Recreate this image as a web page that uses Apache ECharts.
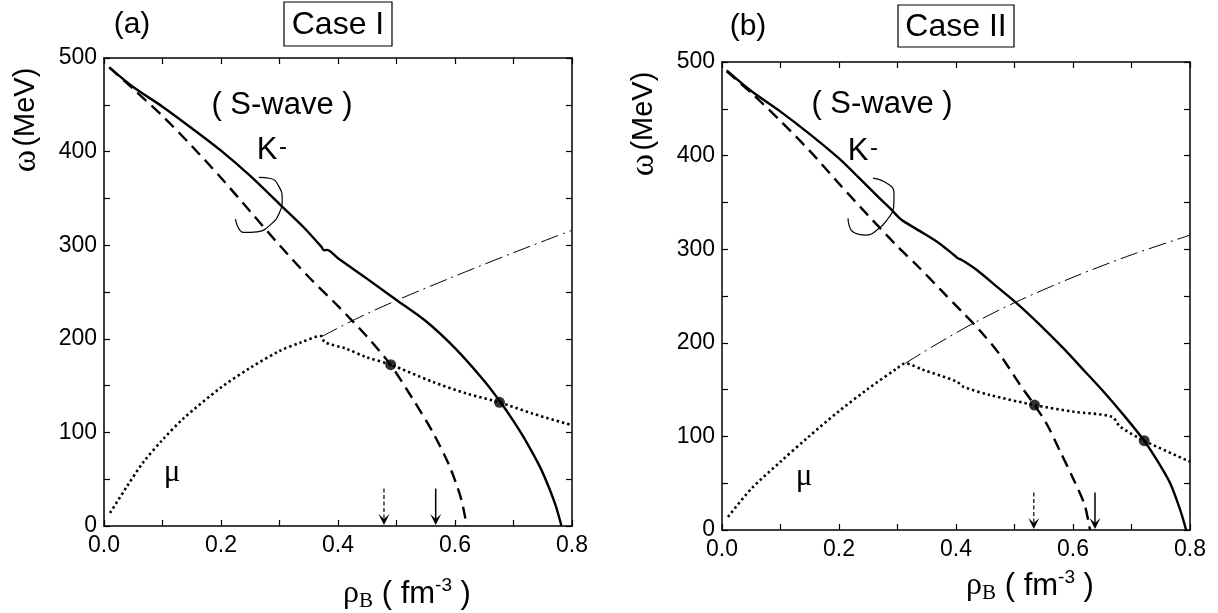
<!DOCTYPE html>
<html><head><meta charset="utf-8">
<script src="https://cdn.jsdelivr.net/npm/echarts@6/dist/echarts.min.js"></script>
<style>html,body{margin:0;padding:0;background:#fff}#c{width:1218px;height:613px}</style>
</head><body><div id="c"></div>
<script>
// ---------- Panel (a) : Case I ----------
const A_solid_x = [0.009,0.05,0.1,0.15,0.2,0.25,0.3,0.34,0.372,0.376,0.381,0.4,0.45,0.5,0.55,0.6,0.65,0.677,0.7,0.72,0.745,0.76,0.772,0.782];
const A_solid_y = [490,469,448,425,401,374,344,320,298,294.5,295,286,264,241.5,219,190,155,133,112,92,63.4,42,22,0];
const A_dash_x  = [0.009,0.05,0.1,0.15,0.2,0.25,0.3,0.35,0.4,0.45,0.49,0.529,0.563,0.591,0.611,0.62];
const A_dash_y  = [490,467,438,406,372,336,300,266,235,202,172,134.6,99,63.4,27.8,0];
const A_mu_x    = [0.0103,0.039,0.067,0.1,0.136,0.2,0.25,0.3,0.336,0.371,0.377,0.414,0.448,0.49,0.562,0.62,0.676,0.733,0.8];
const A_mu_y    = [14,42,68,92,115,148,169,187,196,203,196.5,189.4,180.5,172.3,154,141.5,132.1,120,107.7];
const A_dd_x    = [0.371,0.43,0.5,0.6,0.7,0.8];
const A_dd_y    = [202,221,241,267,292,316];
const A_dots_x  = [0.490,0.676];
const A_dots_y  = [172.3,132.1];
const A_arrow_x = [0.4786,0.567];      // dashed, solid
const A_arrow_top = [40,40];
const A_loop_x  = [0.2646,0.2846,0.2989,0.3046,0.300,0.2857,0.2617,0.2389,0.2246];
const A_loop_y  = [372.4,371.3,362.8,349.2,335,322.5,314.3,313.6,327.9];

// ---------- Panel (b) : Case II ----------
const B_solid_x = [0.008,0.05,0.1,0.15,0.2,0.233,0.27,0.2875,0.302,0.31,0.3444,0.3729,0.3986,0.404,0.41,0.4356,0.4698,0.504,0.5439,0.5838,0.618,0.652,0.6863,0.7217,0.7433,0.7661,0.7832,0.7934];
const B_solid_y = [491,469,447,423,397,377,354,343.7,334,330,317,305.6,292.7,290,288.5,277.8,260,242.2,219,194,171,148,123,95.4,74.8,49.9,21.4,0];
const B_dash_x  = [0.008,0.05,0.1,0.15,0.2,0.25,0.3,0.336,0.374,0.41,0.44,0.4766,0.5085,0.5342,0.5553,0.578,0.601,0.6197,0.628,0.629];
const B_dash_y  = [490,467,437,405,370,336,303,281,256.5,233.3,213.7,186,156,133.5,113,84,54,27,4,0];
const B_mu_x    = [0.0103,0.05,0.1,0.147,0.2,0.25,0.3,0.3131,0.3444,0.4014,0.4128,0.4584,0.5342,0.6009,0.6664,0.6806,0.7217,0.8];
const B_mu_y    = [14,44,73,99,127,151,173,178,171,158.5,153,144.2,133.5,126.4,121,110.4,95.4,73];
const B_dd_x    = [0.3131,0.36,0.43,0.504,0.6,0.7,0.8];
const B_dd_y    = [178,196,221,244,270,294,315];
const B_dots_x  = [0.5342,0.7217];
const B_dots_y  = [133.5,95.4];
const B_arrow_x = [0.533,0.6376];
const B_arrow_top = [40,40];
const B_loop_x  = [0.258,0.283,0.294,0.2935,0.283,0.266,0.245,0.228,0.217,0.2155];
const B_loop_y  = [376,370,360,345,332,321,315,317,326,333];

// ---------- axes ----------
const X_MIN = 0, X_MAX = 0.8, X_STEP = 0.1;
const Y_MIN = 0, Y_MAX = 500, Y_STEP = 50;

const SANS = '"Liberation Sans", Arial, sans-serif';
const SERIF = '"Liberation Serif", "DejaVu Serif", serif';

function pairs(xs, ys){ return xs.map((x,i)=>[x, ys[i]]); }

function xAx(g, pos){
  return { type:'value', gridIndex:g, position:pos, min:X_MIN, max:X_MAX, interval:X_STEP,
    axisLine:{show:true,onZero:false,lineStyle:{color:'#000',width:1.5}},
    axisTick:{show:true,inside:true,length:6,lineStyle:{color:'#000',width:1.2}},
    axisLabel:{show:pos==='bottom', margin:8, fontSize:23, color:'#000', fontFamily:SANS,
      formatter: v => (Math.round(v*10)%2===0 ? (+v).toFixed(1) : '')},
    splitLine:{show:false} };
}
function yAx(g, pos){
  return { type:'value', gridIndex:g, position:pos, min:Y_MIN, max:Y_MAX, interval:Y_STEP,
    axisLine:{show:true,onZero:false,lineStyle:{color:'#000',width:1.5}},
    axisTick:{show:true,inside:true,length:6,lineStyle:{color:'#000',width:1.2}},
    axisLabel:{show:pos==='left', margin:7, fontSize:23, color:'#000', fontFamily:SANS,
      formatter: v => (Math.round(v)%100===0 ? String(Math.round(v)) : '')},
    splitLine:{show:false} };
}

function lineS(g, data, lineStyle, smooth){
  return { type:'line', xAxisIndex:2*g, yAxisIndex:2*g, data, showSymbol:false, symbol:'none',
    smooth: smooth, silent:true, lineStyle, z:3 };
}

function panelSeries(g, s, d, mu, dd, dots, arrX, arrTop, loop){
  const blk = '#000';
  return [
    lineS(g, s, {color:blk, width:2.4, type:'solid'}, 0.3),
    lineS(g, d, {color:blk, width:2.4, type:[12,7]}, 0.3),
    lineS(g, mu, {color:blk, width:2.6, type:[2.4,3]}, 0.3),
    lineS(g, dd, {color:blk, width:1, type:[18,5,2,5]}, 0.3),
    lineS(g, loop, {color:blk, width:1.2, type:'solid'}, true),
    { type:'scatter', xAxisIndex:2*g, yAxisIndex:2*g, data:dots, symbol:'circle', symbolSize:11,
      itemStyle:{color:blk}, silent:true, z:5 },
    { type:'custom', xAxisIndex:2*g, yAxisIndex:2*g, silent:true, z:4,
      data: arrX.map((x,i)=>[x, arrTop[i], i]),
      renderItem(params, api){
        const x = api.value(0), top = api.value(1), kind = api.value(2);
        const p0 = api.coord([x, top]), p1 = api.coord([x, 0]);
        const dashed = kind === 0;
        return { type:'group', children:[
          { type:'line', shape:{x1:p0[0], y1:p0[1], x2:p1[0], y2:p1[1]-5},
            style:{stroke:blk, lineWidth: dashed ? 1.2 : 1.5, lineDash: dashed ? [4,2.5] : null} },
          { type:'polygon', shape:{points:[[p1[0],p1[1]-1],[p1[0]-5.5,p1[1]-12],[p1[0],p1[1]-7],[p1[0]+5.5,p1[1]-12]]},
            style:{fill:blk} }
        ]};
      } }
  ];
}

function txt(x, y, text, size, fam){
  return { type:'text', x, y, silent:true,
    style:{ text, fontSize:size, fontFamily:fam, fill:'#000', align:'center', verticalAlign:'middle' } };
}

function panelGraphics(o){
  const els = [];
  els.push(txt(o.lab[0], o.lab[1], o.labText, 30, SANS));
  els.push({ type:'rect', silent:true, shape:{x:o.box[0], y:o.box[1], width:o.box[2], height:o.box[3]},
    style:{fill:'none', stroke:'#000', lineWidth:1.2} });
  els.push(txt(o.box[0]+o.box[2]/2, o.box[1]+o.box[3]/2+1, o.caseText, 32, SANS));
  els.push(txt(o.sw[0], o.sw[1], '( S-wave )', 31, SANS));
  els.push(txt(o.k[0], o.k[1], 'K', 31, SANS));
  els.push(txt(o.k[0]+16, o.k[1]-3, '-', 24, SANS));
  els.push(txt(o.mu[0], o.mu[1], 'μ', 31, SERIF));
  // y title (rotated)
  els.push({ type:'text', x:o.yt[0], y:o.yt[1], rotation:Math.PI/2, silent:true,
    style:{ text:'{g|ω} {s|(MeV)}', align:'center', verticalAlign:'middle', fill:'#000',
      rich:{ g:{fontSize:34, fontFamily:SERIF, fill:'#000'}, s:{fontSize:29, fontFamily:SANS, fill:'#000'} } } });
  // x title
  els.push({ type:'text', x:o.xt[0], y:o.xt[1], silent:true,
    style:{ text:'{r|ρ}{b|B}{s| ( fm}{p|-3}{s| )}', align:'center', verticalAlign:'middle', fill:'#000',
      rich:{ r:{fontSize:32, fontFamily:SERIF, fill:'#000', lineHeight:36},
             b:{fontSize:21, fontFamily:SERIF, fill:'#000', verticalAlign:'bottom', lineHeight:36},
             s:{fontSize:31, fontFamily:SANS, fill:'#000', lineHeight:36},
             p:{fontSize:19, fontFamily:SANS, fill:'#000', verticalAlign:'top', lineHeight:36} } } });
  return els;
}

const option = {
  animation:false,
  backgroundColor:'#fff',
  grid:[
    {left:104, top:58, width:468, height:468},
    {left:722, top:62, width:468, height:468}
  ],
  xAxis:[ xAx(0,'bottom'), xAx(0,'top'), xAx(1,'bottom'), xAx(1,'top') ],
  yAxis:[ yAx(0,'left'), yAx(0,'right'), yAx(1,'left'), yAx(1,'right') ],
  series:[
    ...panelSeries(0, pairs(A_solid_x,A_solid_y), pairs(A_dash_x,A_dash_y), pairs(A_mu_x,A_mu_y),
      pairs(A_dd_x,A_dd_y), pairs(A_dots_x,A_dots_y), A_arrow_x, A_arrow_top, pairs(A_loop_x,A_loop_y)),
    ...panelSeries(1, pairs(B_solid_x,B_solid_y), pairs(B_dash_x,B_dash_y), pairs(B_mu_x,B_mu_y),
      pairs(B_dd_x,B_dd_y), pairs(B_dots_x,B_dots_y), B_arrow_x, B_arrow_top, pairs(B_loop_x,B_loop_y))
  ],
  graphic:[
    ...panelGraphics({lab:[132,25], labText:'(a)', box:[284,2,108,44], caseText:'Case I',
      sw:[282,105], k:[267,150], mu:[172,473], yt:[26,120], xt:[407,594]}),
    ...panelGraphics({lab:[748,27], labText:'(b)', box:[898,5,116,42], caseText:'Case II',
      sw:[882,104], k:[858,151], mu:[804,477], yt:[644,124], xt:[1030,586]})
  ]
};
const chart = echarts.init(document.getElementById('c'), null, {renderer:'canvas'});
chart.setOption(option);
</script></body></html>
